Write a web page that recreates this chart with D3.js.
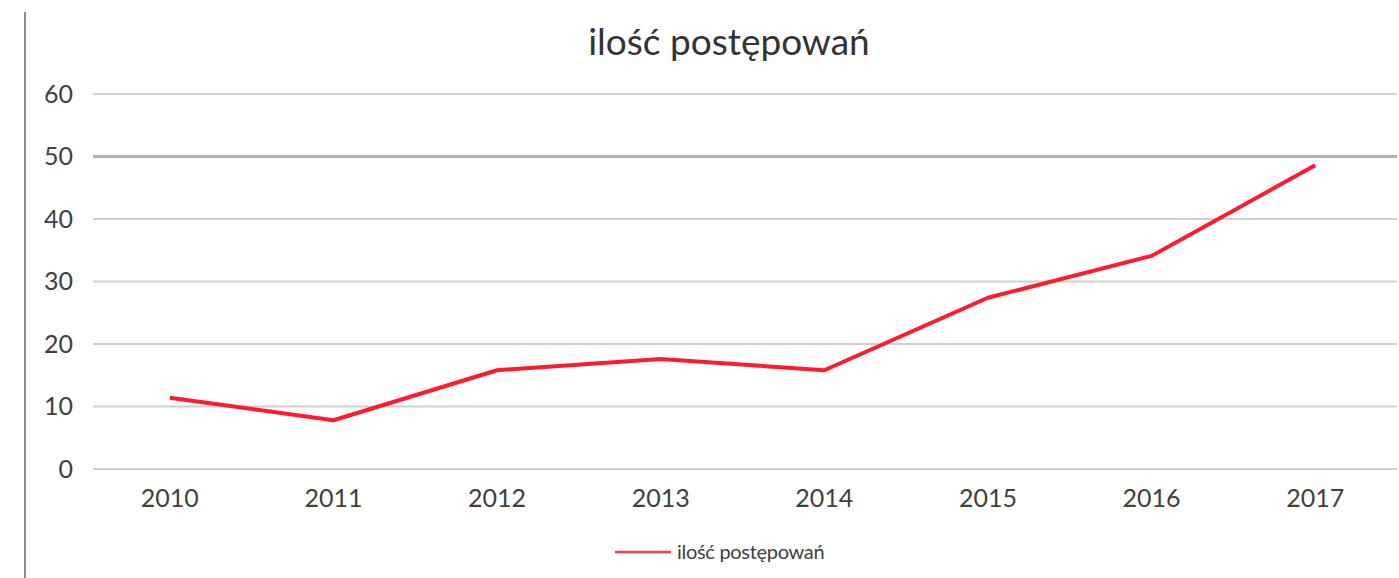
<!DOCTYPE html>
<html>
<head>
  <script src="https://d3js.org/d3.v7.min.js"></script>
  <style>
    body { margin: 0; background: #fff; }
    text { font-family: Lato, "Open Sans", sans-serif; fill: #404040; }
  </style>
</head>
<body>
<div id="vis"></div>
<script>
// data
const years = ["2010", "2011", "2012", "2013", "2014", "2015", "2016", "2017"];
const counts = [11.4, 7.8, 15.8, 17.6, 15.8, 27.4, 34.1, 48.6];
const yTicks = [0, 10, 20, 30, 40, 50, 60];
const seriesName = "ilość postępowań";

const width = 1399;
const height = 578;

const svg = d3.select("#vis")
  .append("svg")
  .attr("width", width)
  .attr("height", height);

const x = d3.scaleBand()
  .domain(years)
  .range([88, 1397]);

const y = d3.scaleLinear()
  .domain([0, 60])
  .range([469, 94]);

// left frame line
svg.append("line")
  .attr("x1", 25).attr("x2", 25)
  .attr("y1", 12).attr("y2", height)
  .attr("stroke", "#8a8a8a")
  .attr("stroke-width", 2);

// gridlines
svg.selectAll(".grid")
  .data(yTicks)
  .enter()
  .append("line")
  .attr("x1", 93).attr("x2", 1397)
  .attr("y1", d => y(d)).attr("y2", d => y(d))
  .attr("stroke", d => d === 50 ? "#b4b4b4" : "#d0d0d0")
  .attr("stroke-width", d => d === 50 ? 3 : 2);

// y labels
svg.selectAll(".ylab")
  .data(yTicks)
  .enter()
  .append("text")
  .attr("x", 73)
  .attr("y", d => y(d))
  .attr("dy", "0.35em")
  .attr("text-anchor", "end")
  .style("font-size", "25px")
  .text(d => d);

// x labels
svg.selectAll(".xlab")
  .data(years)
  .enter()
  .append("text")
  .attr("x", d => x(d) + x.bandwidth() / 2)
  .attr("y", 498)
  .attr("dy", "0.35em")
  .attr("text-anchor", "middle")
  .style("font-size", "25px")
  .text(d => d);

// the line
const line = d3.line()
  .x((d, i) => x(years[i]) + x.bandwidth() / 2)
  .y(d => y(d));

svg.append("path")
  .datum(counts)
  .attr("d", line)
  .attr("fill", "none")
  .attr("stroke", "#ff1a2e")
  .attr("stroke-width", 4)
  .attr("stroke-linejoin", "round");

// title
svg.append("text")
  .attr("x", 729)
  .attr("y", 42)
  .attr("dy", "0.35em")
  .attr("text-anchor", "middle")
  .style("font-size", "37px")
  .style("fill", "#333")
  .text(seriesName);

// legend
svg.append("line")
  .attr("x1", 615).attr("x2", 671)
  .attr("y1", 552).attr("y2", 552)
  .attr("stroke", "#ff3a4a")
  .attr("stroke-width", 2.5);

svg.append("text")
  .attr("x", 677)
  .attr("y", 552)
  .attr("dy", "0.35em")
  .style("font-size", "20px")
  .style("letter-spacing", "-0.3px")
  .text(seriesName);
</script>
</body>
</html>
